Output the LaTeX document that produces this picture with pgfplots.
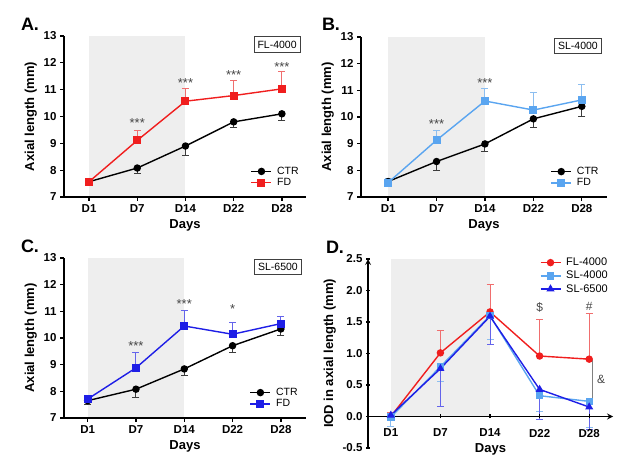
\documentclass[border=0pt]{standalone}
\usepackage{pgfplots}
\pgfplotsset{compat=1.18}
\usepackage{fontspec}
\setmainfont{Liberation Sans}
\definecolor{myred}{RGB}{240,30,30}
\definecolor{myrederr}{RGB}{240,110,110}
\definecolor{lblue}{RGB}{90,165,240}
\definecolor{lblueerr}{RGB}{140,190,240}
\definecolor{dblue}{RGB}{30,30,230}
\definecolor{dblueerr}{RGB}{100,100,235}
\definecolor{shade}{RGB}{238,238,238}
\definecolor{errgray}{RGB}{60,60,60}
\definecolor{stargray}{RGB}{70,70,70}
\tikzset{
  star/.style={font=\fontsize{13}{14}\selectfont, text=stargray},
  tagbox/.style={draw=black!75, line width=0.9pt, fill=white, font=\fontsize{10.5}{12}\selectfont, inner xsep=3.5pt, inner ysep=4pt},
}
\pgfplotsset{
  panel/.style={
    scale only axis,
    axis lines=left, axis line style={-, line width=1.6pt},
    tick align=outside, major tick length=4pt,
    tick style={line width=1.3pt, black},
    xtick={0,...,4}, xticklabels={D1,D7,D14,D22,D28},
    ticklabel style={font=\fontsize{11.5}{12}\selectfont\bfseries},
    label style={font=\fontsize{13}{14}\selectfont\bfseries},
    xlabel={Days},
    /pgf/number format/assume math mode=true,
    axis on top, clip=false,
    legend style={draw=none, fill=none, font=\fontsize{10.5}{12}\selectfont, row sep=-1.5pt, inner sep=0pt,
      /tikz/every odd column/.append style={column sep=3pt}},
    legend cell align=left,
    legend image code/.code={\draw[##1, mark repeat=2, mark phase=2] plot coordinates {(0pt,0pt)(10pt,0pt)(20pt,0pt)};},
  },
  ctr/.style={black, line width=1.4pt, mark=*, mark size=3pt, mark options={solid},
    error bars/.cd, y dir=minus, y explicit,
    error bar style={line width=1pt, color=errgray},
    error mark options={rotate=90, line width=1pt, mark size=3.5pt, color=errgray}},
  fd/.style={#1, line width=1.4pt, mark=square*, mark size=3.3pt, mark options={solid},
    error bars/.cd, y dir=plus, y explicit,
    error bar style={line width=1pt, color=#1err},
    error mark options={rotate=90, line width=1pt, mark size=3.5pt, color=#1err}},
}
\begin{document}
\begin{tikzpicture}
\useasboundingbox (0pt,0pt) rectangle (640pt,476pt);
% ---------------- A
\begin{axis}[panel, at={(64pt,279pt)}, anchor=south west, width=242pt, height=161pt,
  xmin=-0.52, xmax=4.5, ymin=7, ymax=13, ytick={7,...,13},
  ylabel={Axial length (mm)},
  legend style={at={(axis cs:3.35,8.2)}, anchor=north west}]
\addplot[fill=shade, draw=none, forget plot] coordinates {(0,7) (0,13) (2,13) (2,7)} -- cycle;
\addplot[ctr] coordinates {(0,7.57)+-(0,0.05) (1,8.08)+-(0,0.21) (2,8.90)+-(0,0.34) (3,9.80)+-(0,0.22) (4,10.10)+-(0,0.24)};
\addlegendentry{CTR}
\addplot[fd=myred] coordinates {(0,7.57)+-(0,0.03) (1,9.11)+-(0,0.38) (2,10.57)+-(0,0.48) (3,10.78)+-(0,0.55) (4,11.03)+-(0,0.64)};
\addlegendentry{FD}
\node[star] at (axis cs:1,9.75) {***};
\node[star] at (axis cs:2,11.25) {***};
\node[star] at (axis cs:3,11.53) {***};
\node[star] at (axis cs:4,11.86) {***};
\node[tagbox] at (axis cs:3.9,12.68) {FL-4000};
\end{axis}
% ---------------- B
\begin{axis}[panel, at={(361pt,279pt)}, anchor=south west, width=246pt, height=160pt,
  xmin=-0.56, xmax=4.52, ymin=7, ymax=13, ytick={7,...,13},
  ylabel={Axial length (mm)},
  legend style={at={(axis cs:3.35,8.2)}, anchor=north west}]
\addplot[fill=shade, draw=none, forget plot] coordinates {(0,7) (0,13) (2,13) (2,7)} -- cycle;
\addplot[ctr] coordinates {(0,7.58)+-(0,0.08) (1,8.33)+-(0,0.32) (2,8.99)+-(0,0.27) (3,9.93)+-(0,0.34) (4,10.40)+-(0,0.38)};
\addlegendentry{CTR}
\addplot[fd=lblue] coordinates {(0,7.54)+-(0,0.17) (1,9.13)+-(0,0.37) (2,10.60)+-(0,0.45) (3,10.26)+-(0,0.64) (4,10.64)+-(0,0.59)};
\addlegendentry{FD}
\node[star] at (axis cs:1,9.73) {***};
\node[star] at (axis cs:2,11.28) {***};
\node[tagbox] at (axis cs:3.92,12.66) {SL-4000};
\end{axis}
% ---------------- C
\begin{axis}[panel, at={(64pt,58pt)}, anchor=south west, width=242pt, height=160pt,
  xmin=-0.49, xmax=4.52, ymin=7, ymax=13, ytick={7,...,13},
  ylabel={Axial length (mm)},
  legend style={at={(axis cs:3.35,8.2)}, anchor=north west}]
\addplot[fill=shade, draw=none, forget plot] coordinates {(0,7) (0,13) (2,13) (2,7)} -- cycle;
\addplot[ctr] coordinates {(0,7.65)+-(0,0.13) (1,8.08)+-(0,0.30) (2,8.84)+-(0,0.26) (3,9.71)+-(0,0.24) (4,10.34)+-(0,0.25)};
\addlegendentry{CTR}
\addplot[fd=dblue] coordinates {(0,7.71)+-(0,0.05) (1,8.88)+-(0,0.59) (2,10.45)+-(0,0.57) (3,10.14)+-(0,0.44) (4,10.54)+-(0,0.28)};
\addlegendentry{FD}
\node[star] at (axis cs:1,9.71) {***};
\node[star] at (axis cs:2,11.26) {***};
\node[star] at (axis cs:3,11.08) {*};
\node[tagbox] at (axis cs:3.94,12.66) {SL-6500};
\end{axis}
% ---------------- D
\begin{axis}[panel, at={(368pt,28pt)}, anchor=south west, width=245pt, height=189pt,
  axis x line=middle, axis y line=left,
  hide obscured x ticks=false, hide obscured y ticks=false,
  xmin=-0.46, xmax=4.48, ymin=-0.5, ymax=2.5,
  ytick={-0.5,0,0.5,1,1.5,2,2.5}, yticklabels={-0.5,0.0,0.5,1.0,1.5,2.0,2.5},
  xticklabel style={yshift=-7pt},
  ylabel={IOD in axial length (mm)},
  xlabel style={at={(axis description cs:0.5,0)}, anchor=center, yshift=-1pt, font=\fontsize{13}{14}\selectfont\bfseries},
  legend style={at={(axis cs:3.0,2.55)}, anchor=north west, row sep=0pt, font=\fontsize{11}{12.5}\selectfont}]
\addplot[fill=shade, draw=none, forget plot] coordinates {(0,0) (0,2.5) (2,2.5) (2,0)} -- cycle;
\addplot[myred, line width=1.4pt, mark=*, mark size=3pt, mark options={solid},
  error bars/.cd, y dir=plus, y explicit,
  error bar style={line width=1pt, color=myrederr},
  error mark options={rotate=90, line width=1pt, mark size=3.5pt, color=myrederr}]
  coordinates {(0,0.00)+-(0,0.06) (1,1.01)+-(0,0.36) (2,1.66)+-(0,0.44) (3,0.96)+-(0,0.58) (4,0.91)+-(0,0.72)};
\addlegendentry{FL-4000}
\addplot[lblue, line width=1.4pt, mark=square*, mark size=3pt, mark options={solid},
  error bars/.cd, y dir=minus, y explicit,
  error bar style={line width=1pt, color=lblueerr},
  error mark options={rotate=90, line width=1pt, mark size=3.5pt, color=lblueerr}]
  coordinates {(0,-0.01)+-(0,0.15) (1,0.79)+-(0,0.24) (2,1.60)+-(0,0.38) (3,0.33)+-(0,0.25) (4,0.24)+-(0,0.42)};
\addlegendentry{SL-4000}
\addplot[dblue, line width=1.4pt, mark=triangle*, mark size=3.3pt, mark options={solid},
  error bars/.cd, y dir=minus, y explicit,
  error bar style={line width=1pt, color=dblueerr},
  error mark options={rotate=90, line width=1pt, mark size=3.5pt, color=dblueerr}]
  coordinates {(0,0.02)+-(0,0.05) (1,0.76)+-(0,0.60) (2,1.59)+-(0,0.45) (3,0.43)+-(0,0.48) (4,0.15)+-(0,0.35)};
\addlegendentry{SL-6500}
\node[font=\fontsize{12}{13}\selectfont, text=stargray] at (axis cs:3,1.73) {\$};
\node[font=\fontsize{12}{13}\selectfont, text=stargray] at (axis cs:4,1.74) {\#};
\draw[line width=1.2pt, gray] (axis cs:4.06,0.9) -- (axis cs:4.06,0.25);
\node[font=\fontsize{12}{13}\selectfont, text=stargray] at (axis cs:4.24,0.59) {\&};
\end{axis}
% panel letters
\node[font=\fontsize{18}{20}\selectfont\bfseries] at (30pt,452pt) {A.};
\node[font=\fontsize{18}{20}\selectfont\bfseries] at (331pt,452pt) {B.};
\node[font=\fontsize{18}{20}\selectfont\bfseries] at (30pt,230pt) {C.};
\node[font=\fontsize{18}{20}\selectfont\bfseries] at (335pt,229pt) {D.};
\end{tikzpicture}
\end{document}
